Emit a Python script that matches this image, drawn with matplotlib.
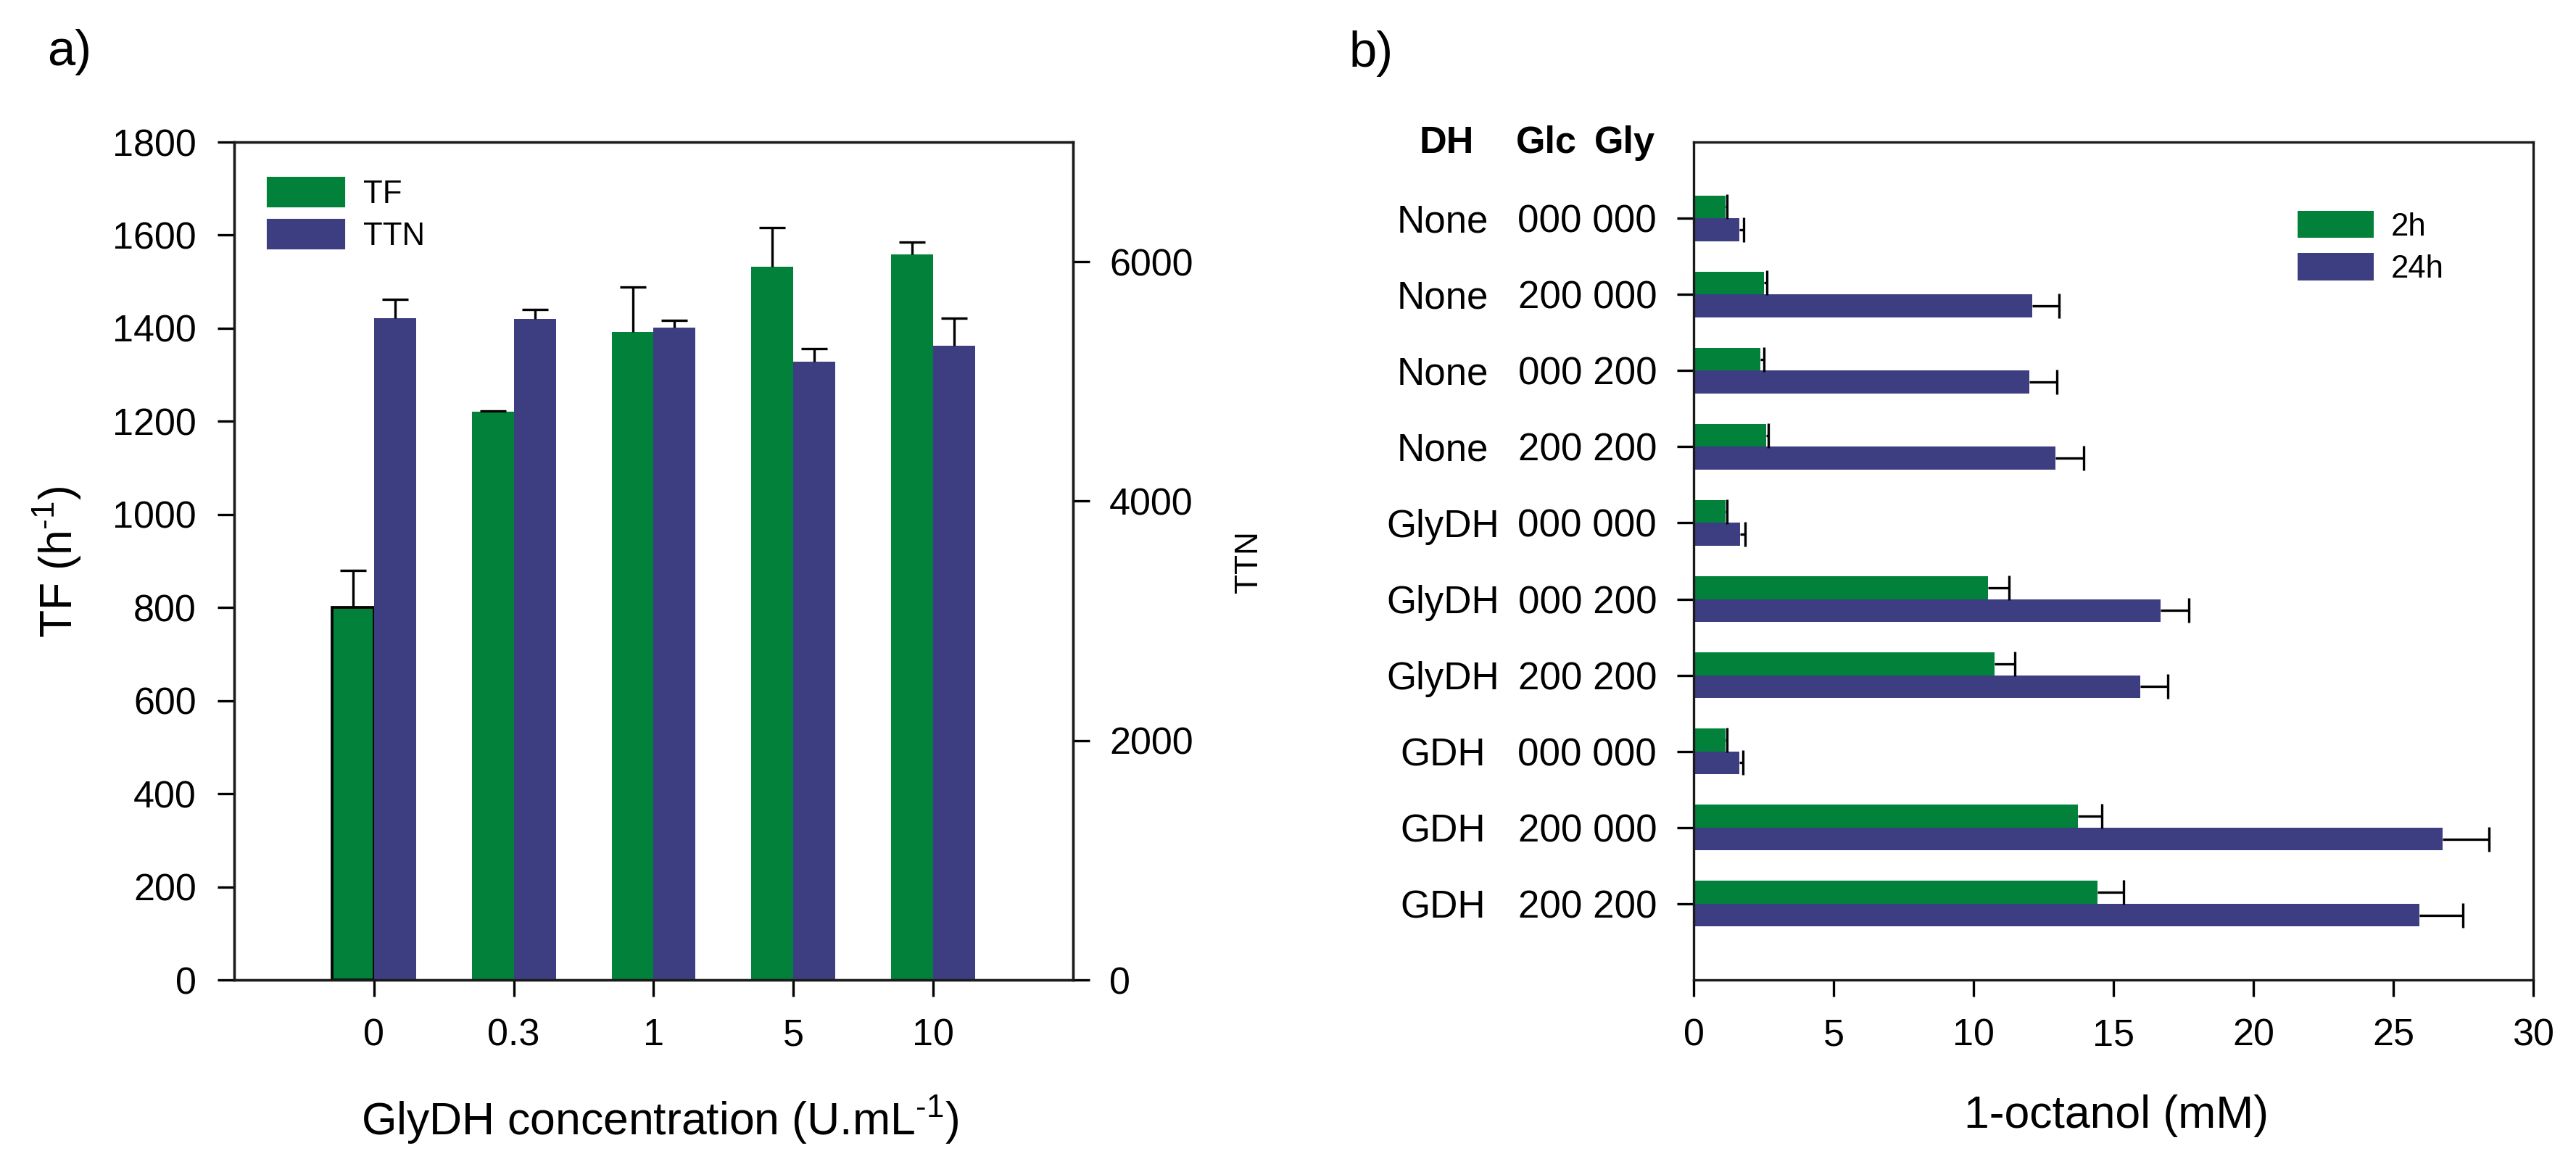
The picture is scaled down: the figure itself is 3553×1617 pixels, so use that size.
import matplotlib
matplotlib.use("Agg")
import matplotlib.pyplot as plt
import numpy as np
from matplotlib.patches import Patch

plt.rcParams['font.family'] = ['Liberation Sans', 'DejaVu Sans']
plt.rcParams['mathtext.default'] = 'regular'

# ---------------- data ----------------
# panel a
conc_labels = ['0', '0.3', '1', '5', '10']
tf = [801, 1221, 1392, 1532, 1558]
tf_err = [78, 2, 96, 84, 27]
ttn = [5531, 5522, 5449, 5165, 5298]
ttn_err = [157, 80, 63, 110, 233]

# panel b
dh_names = ['None', 'None', 'None', 'None', 'GlyDH', 'GlyDH', 'GlyDH', 'GDH', 'GDH', 'GDH']
glc_gly = ['000 000', '200 000', '000 200', '200 200', '000 000',
           '000 200', '200 200', '000 000', '200 000', '200 200']
oct_2h = [1.15, 2.51, 2.38, 2.59, 1.15, 10.53, 10.75, 1.15, 13.73, 14.43]
oct_2h_err = [0.05, 0.11, 0.12, 0.09, 0.05, 0.74, 0.73, 0.05, 0.86, 0.92]
oct_24h = [1.63, 12.10, 12.00, 12.93, 1.66, 16.68, 15.96, 1.63, 26.76, 25.93]
oct_24h_err = [0.16, 0.95, 0.97, 1.01, 0.17, 1.02, 0.98, 0.13, 1.67, 1.55]

GREEN = '#02813a'
BLUE = '#3d3d81'
W, H = 3553, 1617
fig = plt.figure(figsize=(W / 300, H / 300), dpi=300)

TICK = dict(direction='out', length=5.5, width=0.8, labelsize=12.5, pad=7)
BW = 0.30
SUP = '$^{\u2010' + '1}$'

# ---------------- panel a ----------------
ax1 = fig.add_axes([323 / W, 1 - 1352 / H, (1480 - 323) / W, (1352 - 196) / H])
ax2 = ax1.twinx()
x = np.arange(len(conc_labels))

b1 = ax1.bar(x - BW / 2, tf, width=BW, color=GREEN, zorder=2)
b1[0].set_edgecolor('black')
b1[0].set_linewidth(0.9)
eb1 = ax1.errorbar(x - BW / 2, tf, yerr=[np.zeros(len(tf)), tf_err], fmt='none',
                   ecolor='black', elinewidth=0.8, capsize=4.4, capthick=0.8, zorder=3)
eb1[1][0].set_visible(False)

b2 = ax2.bar(x + BW / 2, ttn, width=BW, color=BLUE, zorder=2)
eb2 = ax2.errorbar(x + BW / 2, ttn, yerr=[np.zeros(len(ttn)), ttn_err], fmt='none',
                   ecolor='black', elinewidth=0.8, capsize=4.4, capthick=0.8, zorder=3)
eb2[1][0].set_visible(False)

ax1.set_xlim(-1, 5)
ax1.set_ylim(0, 1800)
ax1.set_yticks(np.arange(0, 1801, 200))
ax1.set_xticks(x)
ax1.set_xticklabels(conc_labels)
ax2.set_ylim(0, 7000)
ax2.set_yticks([0, 2000, 4000, 6000])
ax1.tick_params(axis='both', **TICK)
ax2.tick_params(axis='y', direction='out', length=5.5, width=0.8, labelsize=12.5, pad=6.5)
for ax in (ax1, ax2):
    for s in ax.spines.values():
        s.set_linewidth(0.8)
        s.set_color('#1a1a1a')

ax1.legend(handles=[Patch(color=GREEN, label='TF'), Patch(color=BLUE, label='TTN')],
           loc='upper left', bbox_to_anchor=(0.0406, 0.9567), frameon=False,
           fontsize=10.5, handlelength=2.38, handleheight=0.94, labelspacing=0.35,
           handletextpad=0.62, borderpad=0, borderaxespad=0)

fig.text(99.5 / W, 1 - 775 / H, 'TF (h' + SUP + ')', rotation=90, rotation_mode='anchor',
         ha='center', va='baseline', fontsize=15)
fig.text(1734 / W, 1 - 775 / H, 'TTN', rotation=90, rotation_mode='anchor',
         ha='center', va='baseline', fontsize=10.6)
fig.text(910 / W, 1 - 1565 / H, 'GlyDH concentration (U.mL' + SUP + ')', ha='center',
         va='baseline', fontsize=15)
fig.text(65 / W, 1 - 90 / H, 'a)', ha='left', va='baseline', fontsize=16.5)

# ---------------- panel b ----------------
ax3 = fig.add_axes([2336 / W, 1 - 1352 / H, (3494 - 2336) / W, (1352 - 196) / H])
y = np.arange(len(glc_gly))
ax3.barh(y - BW / 2, oct_2h, height=BW, color=GREEN, zorder=2, label='2h')
ax3.barh(y + BW / 2, oct_24h, height=BW, color=BLUE, zorder=2, label='24h')
e3 = ax3.errorbar(oct_2h, y - BW / 2, xerr=[np.zeros(len(y)), oct_2h_err], fmt='none',
                  ecolor='black', elinewidth=0.8, capsize=4.0, capthick=0.8, zorder=3)
e3[1][0].set_visible(False)
e4 = ax3.errorbar(oct_24h, y + BW / 2, xerr=[np.zeros(len(y)), oct_24h_err], fmt='none',
                  ecolor='black', elinewidth=0.8, capsize=4.0, capthick=0.8, zorder=3)
e4[1][0].set_visible(False)

ax3.set_xlim(0, 30)
ax3.set_xticks(np.arange(0, 31, 5))
ax3.set_ylim(10, -1)
ax3.set_yticks(y)
ax3.set_yticklabels(glc_gly)
ax3.tick_params(axis='both', **TICK)
ax3.tick_params(axis='y', pad=6.7, labelsize=12.7)
for s in ax3.spines.values():
    s.set_linewidth(0.8)
    s.set_color('#1a1a1a')

tr = ax3.get_yaxis_transform()
for i, name in enumerate(dh_names):
    ax3.text(-0.2988, i, name, transform=tr, ha='center', va='center_baseline',
             fontsize=12.7, clip_on=False)
for xx, hd in [(-0.2945, 'DH'), (-0.1753, 'Glc'), (-0.082, 'Gly')]:
    ax3.text(xx, -1.04, hd, transform=tr, ha='center', va='center_baseline',
             fontsize=12.5, fontweight='bold', clip_on=False)

ax3.legend(loc='upper left', bbox_to_anchor=(0.7193, 0.9178), frameon=False,
           fontsize=10.5, handlelength=2.4, handleheight=0.94, labelspacing=0.35,
           handletextpad=0.55, borderpad=0, borderaxespad=0)

fig.text(2919 / W, 1 - 1556 / H, '1-octanol (mM)', ha='center', va='baseline', fontsize=15)
fig.text(1861 / W, 1 - 92 / H, 'b)', ha='left', va='baseline', fontsize=16.5)

fig.savefig('out.png', dpi=300)
